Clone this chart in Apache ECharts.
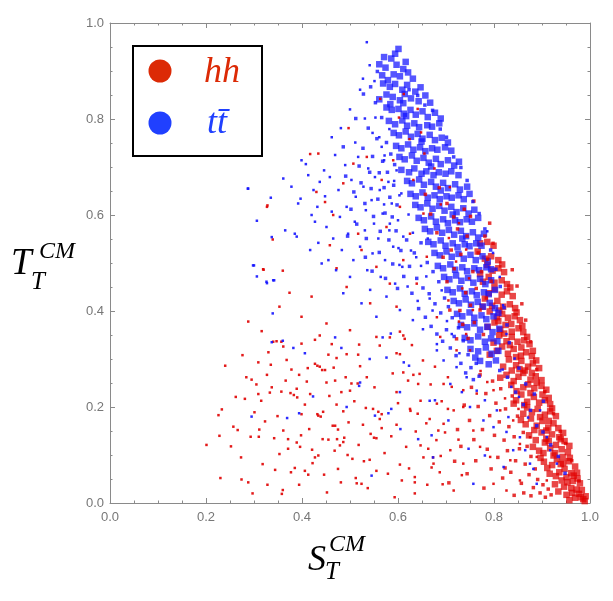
<!DOCTYPE html>
<html>
<head>
<meta charset="utf-8">
<script src="https://cdn.jsdelivr.net/npm/echarts@6/dist/echarts.min.js"></script>
<style>
  html, body { margin: 0; padding: 0; background: #fff; }
  #main { width: 613px; height: 601px; }
</style>
</head>
<body>
<div id="main"></div>
<script>
// 轴刻度
const tickValues = [0, 0.2, 0.4, 0.6, 0.8, 1.0]
const seriesNames = ['hh', 'tt\u0304']

// hh 密集带（右下）
const hhCore = [
  [0.986,0.008],[0.977,0.019],[0.969,0.011],[0.961,0.031],[0.951,0.017],[0.991,0.014],[0.979,0.041],[0.964,0.046],[0.946,0.034],[0.934,0.024],[0.972,0.028],[0.957,0.006],[0.983,0.027],[0.941,0.047],[0.927,0.039],[0.953,0.043],[0.963,0.021],[0.974,0.051],[0.989,0.004],[0.981,0.012],
  [0.961,0.062],[0.947,0.071],[0.936,0.064],[0.921,0.079],[0.969,0.076],[0.956,0.087],[0.943,0.096],[0.931,0.091],[0.916,0.061],[0.904,0.086],[0.966,0.057],[0.951,0.054],[0.939,0.081],[0.958,0.094],[0.924,0.099],[0.911,0.073],[0.897,0.094],[0.973,0.063],[0.944,0.083],[0.929,0.056],
  [0.954,0.106],[0.941,0.112],[0.929,0.121],[0.917,0.114],[0.906,0.126],[0.894,0.109],[0.947,0.129],[0.936,0.137],[0.921,0.143],[0.909,0.134],[0.899,0.147],[0.887,0.131],[0.944,0.146],[0.881,0.117],[0.957,0.119],[0.927,0.104],[0.914,0.129],[0.873,0.141],[0.939,0.133],[0.903,0.104],
  [0.934,0.156],[0.924,0.166],[0.913,0.157],[0.901,0.171],[0.889,0.161],[0.877,0.176],[0.866,0.164],[0.929,0.181],[0.917,0.191],[0.906,0.184],[0.891,0.196],[0.879,0.189],[0.861,0.186],[0.921,0.197],[0.909,0.151],[0.869,0.199],[0.856,0.173],[0.896,0.179],[0.914,0.171],[0.884,0.152],
  [0.917,0.206],[0.906,0.214],[0.894,0.209],[0.883,0.221],[0.869,0.211],[0.857,0.226],[0.846,0.214],[0.909,0.236],[0.899,0.244],[0.884,0.239],[0.871,0.247],[0.861,0.241],[0.847,0.233],[0.836,0.246],[0.901,0.226],[0.914,0.219],[0.876,0.229],[0.889,0.251],[0.863,0.204],[0.841,0.207],
  [0.899,0.256],[0.887,0.264],[0.876,0.257],[0.861,0.271],[0.851,0.263],[0.837,0.276],[0.826,0.267],[0.894,0.281],[0.881,0.291],[0.871,0.284],[0.857,0.296],[0.846,0.287],[0.831,0.299],[0.819,0.284],[0.888,0.297],[0.864,0.276],[0.879,0.271],[0.853,0.279],[0.841,0.254],[0.813,0.261],
  [0.879,0.306],[0.867,0.314],[0.856,0.307],[0.841,0.321],[0.829,0.311],[0.817,0.326],[0.806,0.317],[0.874,0.331],[0.863,0.339],[0.849,0.336],[0.837,0.346],[0.826,0.337],[0.811,0.349],[0.799,0.334],[0.869,0.346],[0.846,0.304],[0.857,0.324],[0.833,0.329],[0.791,0.309],[0.881,0.317],
  [0.861,0.356],[0.851,0.364],[0.837,0.357],[0.824,0.371],[0.813,0.361],[0.801,0.376],[0.787,0.367],[0.854,0.381],[0.843,0.389],[0.829,0.386],[0.817,0.394],[0.806,0.387],[0.791,0.399],[0.847,0.397],[0.836,0.373],[0.821,0.353],[0.859,0.369],[0.809,0.379],
  [0.844,0.406],[0.833,0.414],[0.819,0.409],[0.807,0.421],[0.796,0.411],[0.781,0.426],[0.839,0.431],[0.827,0.441],[0.816,0.434],[0.801,0.446],[0.789,0.437],[0.834,0.449],[0.811,0.401],[0.776,0.409],
  [0.827,0.456],[0.816,0.464],[0.801,0.459],[0.789,0.471],[0.777,0.461],[0.821,0.481],[0.809,0.489],[0.797,0.484],[0.786,0.496],[0.771,0.477],[0.817,0.497],
  [0.809,0.506],[0.794,0.514],[0.781,0.509],[0.766,0.524],[0.799,0.536],[0.786,0.544],[0.771,0.541]
]

// tt 密集带（中上）
const ttCore = [
  [0.586,0.926],[0.597,0.913],[0.611,0.904],[0.574,0.907],[0.591,0.893],[0.604,0.889],[0.621,0.897],[0.567,0.891],[0.579,0.881],[0.616,0.919],[0.631,0.884],[0.594,0.936],[0.561,0.914],[0.601,0.946],[0.571,0.929],
  [0.569,0.874],[0.583,0.867],[0.594,0.873],[0.609,0.861],[0.619,0.871],[0.636,0.857],[0.647,0.866],[0.576,0.851],[0.589,0.846],[0.604,0.839],[0.614,0.852],[0.627,0.843],[0.643,0.837],[0.657,0.849],[0.667,0.834],[0.584,0.831],[0.611,0.833],[0.561,0.841],
  [0.576,0.824],[0.587,0.819],[0.601,0.821],[0.612,0.811],[0.626,0.819],[0.637,0.809],[0.651,0.816],[0.662,0.804],[0.677,0.813],[0.689,0.801],[0.581,0.796],[0.594,0.789],[0.609,0.797],[0.619,0.786],[0.634,0.791],[0.644,0.783],[0.661,0.787],[0.671,0.784],[0.686,0.791],[0.617,0.806],
  [0.591,0.771],[0.602,0.766],[0.616,0.774],[0.627,0.763],[0.641,0.769],[0.651,0.759],[0.666,0.767],[0.677,0.756],[0.691,0.761],[0.704,0.751],[0.596,0.744],[0.607,0.739],[0.621,0.747],[0.632,0.736],[0.646,0.741],[0.657,0.733],[0.671,0.739],[0.682,0.736],[0.698,0.741],[0.711,0.734],[0.649,0.753],
  [0.603,0.721],[0.614,0.716],[0.629,0.724],[0.639,0.713],[0.653,0.719],[0.664,0.709],[0.679,0.717],[0.689,0.706],[0.704,0.714],[0.717,0.703],[0.727,0.711],[0.607,0.694],[0.623,0.689],[0.634,0.697],[0.649,0.686],[0.659,0.691],[0.674,0.683],[0.685,0.689],[0.699,0.686],[0.711,0.691],[0.726,0.683],[0.669,0.701],
  [0.619,0.671],[0.629,0.666],[0.644,0.674],[0.654,0.663],[0.669,0.669],[0.679,0.659],[0.694,0.667],[0.704,0.656],[0.719,0.664],[0.729,0.653],[0.744,0.659],[0.626,0.644],[0.637,0.639],[0.651,0.647],[0.662,0.636],[0.676,0.641],[0.687,0.633],[0.701,0.639],[0.712,0.636],[0.726,0.641],[0.737,0.633],[0.749,0.644],[0.689,0.651],
  [0.636,0.621],[0.647,0.616],[0.661,0.624],[0.672,0.613],[0.686,0.619],[0.697,0.609],[0.711,0.617],[0.722,0.606],[0.736,0.614],[0.747,0.603],[0.759,0.611],[0.643,0.594],[0.654,0.589],[0.669,0.597],[0.679,0.586],[0.694,0.591],[0.704,0.583],[0.719,0.589],[0.729,0.585],[0.743,0.591],[0.754,0.586],[0.767,0.594],[0.714,0.601],
  [0.656,0.571],[0.667,0.566],[0.681,0.574],[0.692,0.563],[0.706,0.569],[0.717,0.559],[0.731,0.567],[0.742,0.556],[0.756,0.564],[0.767,0.553],[0.779,0.561],[0.663,0.544],[0.674,0.539],[0.689,0.547],[0.699,0.536],[0.714,0.541],[0.724,0.533],[0.739,0.539],[0.749,0.535],[0.763,0.541],[0.774,0.536],[0.734,0.551],
  [0.676,0.521],[0.687,0.516],[0.701,0.524],[0.712,0.513],[0.726,0.519],[0.737,0.509],[0.751,0.517],[0.762,0.506],[0.776,0.514],[0.787,0.503],[0.683,0.494],[0.694,0.489],[0.709,0.497],[0.719,0.486],[0.734,0.491],[0.744,0.483],[0.759,0.489],[0.769,0.485],[0.784,0.491],[0.794,0.487],
  [0.696,0.471],[0.707,0.466],[0.721,0.474],[0.732,0.463],[0.746,0.469],[0.757,0.459],[0.771,0.467],[0.782,0.456],[0.794,0.464],[0.703,0.444],[0.714,0.439],[0.729,0.447],[0.739,0.436],[0.754,0.441],[0.764,0.433],[0.779,0.439],[0.789,0.435],[0.802,0.444],
  [0.716,0.421],[0.727,0.416],[0.741,0.424],[0.752,0.413],[0.766,0.419],[0.777,0.409],[0.791,0.417],[0.802,0.406],[0.723,0.394],[0.734,0.389],[0.749,0.397],[0.759,0.386],[0.774,0.391],[0.784,0.383],[0.799,0.389],[0.809,0.396],
  [0.731,0.371],[0.744,0.366],[0.759,0.374],[0.771,0.361],[0.786,0.367],[0.797,0.356],[0.811,0.363],[0.739,0.344],[0.751,0.339],[0.767,0.347],[0.781,0.336],[0.794,0.343],[0.807,0.337],
  [0.751,0.321],[0.767,0.316],[0.783,0.324],[0.795,0.311],[0.809,0.317],[0.771,0.296],[0.789,0.289],[0.804,0.297],[0.761,0.303]
]

// hh 中等密度
const hhMid = [
  [0.706,0.042],[0.718,0.087],[0.724,0.153],[0.731,0.118],[0.738,0.204],[0.744,0.061],[0.749,0.172],[0.753,0.241],[0.758,0.132],[0.762,0.088],
  [0.767,0.201],[0.771,0.267],[0.776,0.153],[0.779,0.031],[0.783,0.228],[0.786,0.112],[0.791,0.182],[0.794,0.071],[0.797,0.254],[0.801,0.141],
  [0.804,0.208],[0.808,0.095],[0.811,0.169],[0.814,0.238],[0.818,0.052],[0.821,0.131],[0.824,0.196],[0.828,0.109],[0.831,0.159],[0.835,0.064],
  [0.838,0.223],[0.842,0.138],[0.845,0.088],[0.849,0.181],[0.853,0.113],[0.857,0.041],[0.861,0.147],[0.865,0.081],[0.869,0.118],[0.873,0.059],
  [0.877,0.097],[0.882,0.032],[0.886,0.071],[0.891,0.049],[0.896,0.021],[0.902,0.038],[0.907,0.012],[0.913,0.029],[0.919,0.017],[0.862,0.021],
  [0.842,0.016],[0.823,0.073],[0.877,0.015],
  [0.722,0.342],[0.729,0.401],[0.735,0.372],[0.741,0.438],[0.746,0.343],[0.751,0.412],[0.756,0.482],[0.759,0.376],[0.763,0.447],[0.767,0.521],
  [0.771,0.402],[0.774,0.482],[0.778,0.351],[0.781,0.556],[0.784,0.427],[0.787,0.508],[0.791,0.583],[0.794,0.462],[0.798,0.541],[0.702,0.461],
  [0.711,0.527],[0.717,0.488],[0.724,0.571],[0.731,0.518],[0.738,0.612],[0.744,0.556],[0.751,0.597],[0.758,0.629],[0.708,0.402],[0.694,0.512],
  [0.681,0.563],[0.668,0.602],[0.657,0.643],[0.686,0.657],[0.702,0.624],[0.716,0.596],
  [0.889,0.278],[0.876,0.336],[0.866,0.381],[0.858,0.415],[0.848,0.452],[0.838,0.486],[0.906,0.232],[0.924,0.186],[0.938,0.149],[0.949,0.124],
  [0.962,0.088],[0.977,0.046]
]

// tt 中等密度
const ttMid = [
  [0.502,0.612],[0.508,0.648],[0.514,0.581],[0.519,0.702],[0.523,0.667],[0.527,0.739],[0.531,0.624],[0.534,0.551],[0.538,0.781],[0.541,0.689],
  [0.544,0.655],[0.547,0.722],[0.549,0.597],[0.553,0.834],[0.556,0.759],[0.558,0.633],[0.561,0.688],[0.563,0.566],[0.566,0.803],[0.568,0.712],
  [0.571,0.657],[0.573,0.604],[0.576,0.751],[0.578,0.689],[0.581,0.548],[0.583,0.637],[0.585,0.727],[0.588,0.596],[0.591,0.662],[0.593,0.705],
  [0.596,0.567],[0.598,0.621],[0.486,0.742],[0.491,0.681],[0.495,0.556],[0.512,0.801],[0.528,0.852],[0.543,0.867],[0.557,0.899],[0.532,0.512],
  [0.546,0.483],[0.561,0.522],[0.574,0.468],[0.589,0.498],[0.599,0.447],
  [0.606,0.526],[0.612,0.472],[0.618,0.548],[0.624,0.493],[0.629,0.437],[0.634,0.521],[0.639,0.468],[0.643,0.405],[0.648,0.542],[0.652,0.448],
  [0.657,0.387],[0.661,0.501],[0.665,0.436],[0.669,0.368],[0.673,0.482],[0.677,0.415],[0.681,0.352],[0.685,0.461],[0.689,0.396],[0.693,0.337],
  [0.697,0.427],[0.701,0.361],[0.705,0.409],[0.709,0.323],[0.713,0.386],[0.717,0.347],[0.721,0.307],[0.726,0.365],[0.731,0.291],[0.736,0.338],
  [0.741,0.271],[0.746,0.309],[0.752,0.282],[0.757,0.257],[0.763,0.291],[0.769,0.264],
  [0.623,0.861],[0.641,0.849],[0.656,0.829],[0.672,0.818],[0.688,0.779],[0.701,0.762],[0.716,0.721],[0.731,0.699],[0.744,0.672],[0.756,0.628],
  [0.769,0.603],[0.781,0.571],[0.793,0.527],[0.804,0.487],[0.813,0.451],[0.821,0.407],[0.827,0.371],[0.832,0.334],
  [0.812,0.276],[0.828,0.262],[0.845,0.231],[0.861,0.205],[0.876,0.193],[0.889,0.161],[0.902,0.148],[0.918,0.121],[0.866,0.248],[0.852,0.281],
  [0.884,0.227],[0.934,0.097],[0.948,0.062],[0.903,0.212]
]

// hh 稀疏点
const hhSparse = [
  [0.201,0.121],[0.230,0.052],[0.226,0.183],[0.233,0.195],[0.240,0.286],[0.228,0.140],[0.276,0.308],[0.281,0.217],[0.257,0.159],[0.266,0.152],
  [0.273,0.095],[0.274,0.049],[0.288,0.043],[0.297,0.020],[0.295,0.257],[0.305,0.247],[0.309,0.293],[0.309,0.227],[0.315,0.213],[0.311,0.153],
  [0.310,0.138],[0.293,0.138],[0.330,0.314],[0.335,0.288],[0.337,0.241],[0.333,0.230],[0.323,0.170],[0.342,0.135],[0.344,0.069],[0.353,0.102],
  [0.360,0.027],[0.358,0.019],[0.328,0.038],[0.347,0.337],[0.357,0.336],[0.368,0.298],[0.366,0.255],[0.357,0.232],[0.361,0.151],[0.371,0.133],
  [0.378,0.278],[0.376,0.229],[0.383,0.225],[0.389,0.238],[0.390,0.220],[0.394,0.267],[0.389,0.126],[0.396,0.117],[0.371,0.113],[0.385,0.073],
  [0.394,0.038],[0.399,0.185],[0.406,0.205],[0.410,0.253],[0.417,0.227],[0.415,0.154],[0.406,0.067],[0.413,0.059],[0.427,0.340],[0.437,0.349],
  [0.427,0.290],[0.432,0.286],[0.437,0.284],[0.442,0.277],[0.448,0.277],[0.432,0.185],[0.434,0.182],[0.439,0.180],[0.443,0.133],[0.434,0.099],
  [0.427,0.095],[0.422,0.083],[0.446,0.059],[0.444,0.190],[0.451,0.251],[0.455,0.309],[0.462,0.331],[0.469,0.255],[0.472,0.302],[0.472,0.205],
  [0.464,0.161],[0.469,0.161],[0.475,0.153],[0.455,0.132],[0.473,0.133],[0.486,0.127],[0.488,0.136],[0.479,0.120],[0.475,0.071],[0.495,0.100],
  [0.505,0.092],[0.514,0.041],[0.524,0.040],[0.512,0.052],[0.493,0.310],[0.482,0.231],[0.486,0.191],[0.500,0.234],[0.503,0.249],[0.516,0.249],
  [0.521,0.285],[0.517,0.309],[0.519,0.330],[0.535,0.262],[0.533,0.198],[0.527,0.163],[0.543,0.144],[0.550,0.136],[0.555,0.135],[0.541,0.090],
  [0.555,0.067],[0.548,0.196],[0.559,0.190],[0.566,0.185],[0.566,0.156],[0.562,0.175],[0.562,0.328],[0.583,0.345],[0.589,0.270],[0.597,0.312],
  [0.597,0.231],[0.600,0.208],[0.597,0.163],[0.608,0.047],[0.604,0.080],[0.611,0.272],[0.611,0.349],[0.621,0.255],[0.625,0.196],[0.626,0.192],
  [0.632,0.267],[0.635,0.054],[0.635,0.043],[0.635,0.020],[0.637,0.149],[0.642,0.248],[0.647,0.213],[0.647,0.120],[0.653,0.095],[0.659,0.166],
  [0.663,0.113],[0.666,0.175],[0.670,0.074],[0.673,0.095],[0.680,0.131],[0.684,0.151],[0.687,0.064],[0.691,0.212],[0.704,0.196],[0.698,0.147],
  [0.704,0.262],[0.604,0.310],[0.614,0.342],[0.645,0.269],
  [0.417,0.727],[0.434,0.728],[0.328,0.620],[0.339,0.549],[0.319,0.487],[0.360,0.484],[0.374,0.438],[0.353,0.409],[0.288,0.378],[0.316,0.358],
  [0.340,0.336],[0.361,0.326],[0.399,0.388],[0.420,0.430],[0.430,0.648],[0.448,0.627],[0.465,0.600],[0.458,0.537],[0.472,0.489],[0.486,0.666],
  [0.493,0.450],[0.507,0.707],[0.517,0.561],[0.524,0.527],[0.535,0.721],[0.542,0.416],[0.555,0.492],[0.566,0.673],[0.576,0.575],[0.583,0.457],
  [0.590,0.714],[0.597,0.409],[0.604,0.617],[0.611,0.506],[0.625,0.561],[0.632,0.673],[0.639,0.457],[0.653,0.603],[0.660,0.513],[0.399,0.332],
  [0.451,0.374],[0.500,0.360],[0.555,0.346],[0.604,0.357],[0.327,0.617],[0.320,0.486],[0.563,0.842],[0.602,0.803],[0.648,0.772],[0.497,0.781],
  [0.681,0.207],[0.716,0.193],[0.736,0.200],[0.695,0.165],[0.757,0.151],[0.709,0.110],[0.771,0.117],[0.736,0.082],[0.792,0.096],[0.834,0.089],
  [0.854,0.047],[0.910,0.047],[0.826,0.026],[0.799,0.040],[0.716,0.026],[0.674,0.082],[0.764,0.228],[0.736,0.235],[0.695,0.248],[0.722,0.318],
  [0.688,0.346],[0.681,0.387],[0.705,0.422],[0.750,0.318],[0.799,0.235],[0.813,0.193],[0.875,0.137],[0.889,0.096],[0.854,0.123],[0.840,0.172],
  [0.742,0.352],[0.727,0.378],[0.756,0.402],[0.734,0.447],[0.748,0.468],[0.721,0.503],[0.742,0.528],[0.706,0.552],[0.727,0.583],[0.689,0.622],
  [0.708,0.658],[0.676,0.697],[0.655,0.728],[0.624,0.758],[0.612,0.852],[0.641,0.821],[0.772,0.275],[0.786,0.252],[0.823,0.218],[0.851,0.196],
  [0.452,0.022],[0.468,0.109],[0.481,0.043],[0.497,0.168],[0.509,0.212],[0.518,0.121],[0.529,0.087],[0.537,0.031],[0.551,0.241],[0.572,0.104],
  [0.579,0.061],[0.586,0.139],[0.593,0.012],[0.617,0.117],[0.623,0.072],[0.629,0.329],[0.641,0.186],[0.652,0.297],[0.661,0.038],[0.668,0.247],
  [0.677,0.284],[0.689,0.098],[0.693,0.039],[0.712,0.242],[0.726,0.132],[0.733,0.058],[0.398,0.141],[0.412,0.281],[0.421,0.111],[0.457,0.223],
  [0.466,0.282],[0.491,0.262],[0.377,0.064],[0.349,0.181],[0.318,0.081],[0.301,0.189],[0.262,0.221],[0.252,0.118],[0.284,0.262],[0.327,0.267]
]

// tt 稀疏点
const ttSparse = [
  [0.288,0.655],[0.306,0.588],[0.300,0.495],[0.326,0.461],[0.340,0.464],[0.339,0.395],[0.361,0.676],[0.365,0.568],[0.378,0.659],[0.385,0.561],
  [0.389,0.555],[0.392,0.624],[0.397,0.634],[0.399,0.714],[0.408,0.706],[0.413,0.683],[0.417,0.527],[0.420,0.600],[0.424,0.652],[0.427,0.586],
  [0.432,0.617],[0.434,0.542],[0.437,0.669],[0.441,0.499],[0.446,0.693],[0.448,0.639],[0.451,0.575],[0.455,0.506],[0.458,0.679],[0.462,0.607],
  [0.465,0.551],[0.469,0.725],[0.471,0.485],[0.476,0.652],[0.479,0.596],[0.483,0.527],[0.486,0.437],[0.490,0.704],[0.493,0.617],[0.496,0.561],
  [0.500,0.471],[0.503,0.673],[0.507,0.506],[0.510,0.586],[0.512,0.638],[0.517,0.721],[0.521,0.534],[0.524,0.416],[0.528,0.659],[0.531,0.568],
  [0.533,0.610],[0.536,0.485],[0.538,0.697],[0.542,0.444],[0.545,0.631],[0.547,0.520],[0.550,0.582],[0.552,0.679],[0.555,0.388],[0.559,0.551],
  [0.562,0.652],[0.564,0.471],[0.568,0.603],[0.571,0.714],[0.573,0.506],[0.576,0.430],[0.580,0.669],[0.582,0.568],[0.585,0.353],[0.587,0.624],
  [0.590,0.534],[0.594,0.457],[0.597,0.693],[0.600,0.589],[0.603,0.496],[0.604,0.402],[0.607,0.645],[0.611,0.555],
  [0.337,0.335],[0.360,0.338],[0.382,0.323],[0.406,0.312],[0.423,0.222],[0.295,0.180],[0.369,0.177],[0.394,0.187],[0.469,0.345],[0.482,0.323],
  [0.493,0.200],[0.521,0.251],[0.519,0.244],[0.541,0.300],[0.552,0.182],[0.568,0.345],[0.576,0.303],[0.586,0.196],[0.580,0.187],[0.604,0.231],
  [0.605,0.154],[0.545,0.057],[0.612,0.293],[0.623,0.286],[0.642,0.133],[0.666,0.213],[0.673,0.095],
  [0.677,0.214],[0.709,0.248],[0.733,0.231],[0.750,0.200],[0.778,0.172],[0.799,0.158],[0.826,0.148],[0.840,0.110],[0.875,0.082],[0.882,0.071],
  [0.681,0.318],[0.695,0.297],[0.722,0.283],[0.743,0.262],[0.764,0.234],[0.781,0.214],[0.806,0.193],[0.830,0.179],[0.854,0.137],[0.865,0.110],
  [0.910,0.137],[0.917,0.110],[0.931,0.082],[0.705,0.172],[0.670,0.141],[0.747,0.113],[0.781,0.099],[0.820,0.075],[0.757,0.040],[0.889,0.040],
  [0.896,0.193],[0.287,0.655],[0.335,0.636],[0.337,0.554],[0.298,0.495],[0.306,0.472],[0.327,0.458],[0.342,0.464],
  [0.535,0.960],[0.500,0.820],[0.521,0.861],[0.481,0.781],[0.531,0.801],[0.551,0.879],[0.462,0.762],[0.511,0.751],[0.541,0.912],[0.527,0.884],
  [0.620,0.451],[0.641,0.421],[0.659,0.472],[0.631,0.381],[0.672,0.401],[0.691,0.443],[0.652,0.362],[0.681,0.331],[0.702,0.379],[0.609,0.492],
  [0.638,0.512],[0.662,0.551],[0.631,0.563],[0.601,0.531],[0.622,0.601],[0.603,0.641],[0.583,0.582],[0.571,0.622],[0.592,0.671],[0.572,0.724],
  [0.561,0.762],[0.582,0.779],[0.553,0.803],[0.566,0.742],[0.547,0.771],[0.627,0.526],[0.648,0.494],[0.666,0.426],[0.712,0.352],[0.728,0.312],
  [0.818,0.278],[0.836,0.242],[0.852,0.221],[0.871,0.178],[0.843,0.301],[0.826,0.352],[0.819,0.412],[0.812,0.471],[0.798,0.521],[0.786,0.566]
]

const RED = '#e00000'
const BLUE = '#1414ff'

const chartDom = document.getElementById('main')
const myChart = echarts.init(chartDom)

const axisCommon = {
  type: 'value',
  min: 0,
  max: 1,
  interval: 0.2,
  axisLine: { show: true, onZero: false, lineStyle: { color: '#8a8a8a', width: 1 } },
  axisTick: { show: true, inside: true, length: 5, lineStyle: { color: '#8a8a8a' } },
  minorTick: { show: true, splitNumber: 4, length: 2.5, lineStyle: { color: '#8a8a8a' } },
  splitLine: { show: false },
  axisLabel: {
    color: '#777',
    fontSize: 13,
    fontFamily: 'Liberation Sans, Arial, sans-serif',
    formatter: v => (tickValues.indexOf(Math.round(v * 10) / 10) >= 0 ? v.toFixed(1) : '')
  }
}

function scatter(name, data, color, size, opacity) {
  return {
    name: name,
    type: 'scatter',
    data: data,
    symbol: 'rect',
    symbolSize: size,
    itemStyle: { color: color, opacity: opacity },
    silent: true
  }
}

let option = {
  animation: false,
  backgroundColor: '#fff',
  grid: { left: 110, right: 23, top: 23, bottom: 98, containLabel: false },
  xAxis: [
    Object.assign({}, axisCommon, { position: 'bottom', axisLabel: Object.assign({}, axisCommon.axisLabel, { margin: 8 }) }),
    Object.assign({}, axisCommon, { position: 'top', axisLabel: { show: false } })
  ],
  yAxis: [
    Object.assign({}, axisCommon, { position: 'left', axisLabel: Object.assign({}, axisCommon.axisLabel, { margin: 6 }) }),
    Object.assign({}, axisCommon, { position: 'right', axisLabel: { show: false } })
  ],
  series: [
    scatter(seriesNames[0], hhCore, RED, 6.5, 0.72),
    scatter(seriesNames[1], ttCore, BLUE, 6.5, 0.72),
    scatter(seriesNames[0], hhMid, RED, 3.5, 0.8),
    scatter(seriesNames[1], ttMid, BLUE, 3.5, 0.8),
    scatter(seriesNames[0], hhSparse, RED, 2.5, 0.9),
    scatter(seriesNames[1], ttSparse, BLUE, 2.5, 0.9)
  ],
  graphic: [
    // 图例框
    { type: 'rect', left: 132, top: 45, shape: { width: 129, height: 110 }, style: { fill: '#fff', stroke: '#000', lineWidth: 2 }, z: 100 },
    { type: 'circle', shape: { cx: 160, cy: 71, r: 11.5 }, style: { fill: '#dc2a06' }, z: 101 },
    { type: 'circle', shape: { cx: 160, cy: 123, r: 11.5 }, style: { fill: '#2040ff' }, z: 101 },
    { type: 'text', x: 204, y: 73, z: 101, style: { text: seriesNames[0], fill: '#dc2a06', font: 'italic 36px "Liberation Serif", "DejaVu Serif", serif', verticalAlign: 'middle' } },
    { type: 'text', x: 207, y: 124, z: 101, style: { text: seriesNames[1], fill: '#2040ff', font: 'italic 36px "Liberation Serif", "DejaVu Serif", serif', verticalAlign: 'middle' } },
    // 纵轴标题 T_T^CM
    { type: 'text', x: 11, y: 264, style: { text: 'T', fill: '#000', font: 'italic 37px "Liberation Serif", serif', verticalAlign: 'middle' } },
    { type: 'text', x: 39, y: 252, style: { text: 'CM', fill: '#000', font: 'italic 24px "Liberation Serif", serif', verticalAlign: 'middle' } },
    { type: 'text', x: 31, y: 282, style: { text: 'T', fill: '#000', font: 'italic 25px "Liberation Serif", serif', verticalAlign: 'middle' } },
    // 横轴标题 S_T^CM
    { type: 'text', x: 308, y: 561, style: { text: 'S', fill: '#000', font: 'italic 36px "Liberation Serif", serif', verticalAlign: 'middle' } },
    { type: 'text', x: 329, y: 545, style: { text: 'CM', fill: '#000', font: 'italic 24px "Liberation Serif", serif', verticalAlign: 'middle' } },
    { type: 'text', x: 325, y: 572, style: { text: 'T', fill: '#000', font: 'italic 25px "Liberation Serif", serif', verticalAlign: 'middle' } }
  ]
}

myChart.setOption(option)
</script>
</body>
</html>
